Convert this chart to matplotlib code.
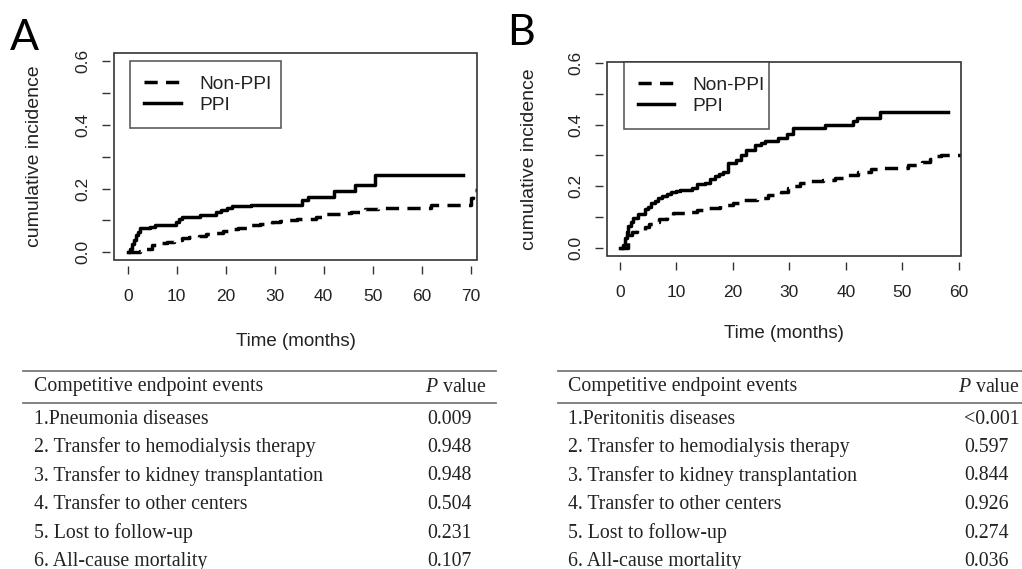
import matplotlib
matplotlib.use('Agg')
from matplotlib import pyplot as pl
from matplotlib.ticker import MultipleLocator
from matplotlib.patches import Rectangle
from matplotlib.lines import Line2D
import numpy as np

W, H = 1022, 569

# Panel A: pneumonia, cumulative incidence (step points)
a_ppi_t = [0, 0.4, 0.8, 1.2, 1.6, 2.0, 2.5, 4.6, 5.5, 9.9, 10.5, 11.0, 14.8, 18.0,
           19.0, 20.3, 21.3, 25.2, 35.5, 36.8, 42.2, 46.4, 50.5, 68.5]
a_ppi_v = [0, 0.012, 0.025, 0.040, 0.055, 0.065, 0.075, 0.080, 0.086, 0.095, 0.105,
           0.112, 0.117, 0.125, 0.133, 0.139, 0.144, 0.150, 0.164, 0.173, 0.191,
           0.212, 0.242, 0.242]
a_non_t = [0, 2.5, 3.5, 5.0, 6.5, 8.0, 9.5, 11.0, 12.5, 14.5, 16.0, 17.5, 19.5, 21.0,
           22.5, 24.5, 27.0, 29.5, 31.0, 32.5, 34.5, 38.5, 40.0, 43.5, 45.5, 47.5,
           48.5, 51.0, 62.0, 70.0, 70.5, 72.0]
a_non_v = [0, 0.004, 0.012, 0.022, 0.028, 0.032, 0.038, 0.044, 0.048, 0.052, 0.056,
           0.060, 0.068, 0.073, 0.077, 0.085, 0.088, 0.094, 0.098, 0.101, 0.104,
           0.110, 0.119, 0.122, 0.127, 0.133, 0.137, 0.140, 0.148, 0.170, 0.195, 0.195]

# Panel B: peritonitis
b_ppi_t = [0, 0.5, 0.9, 1.2, 1.5, 2.0, 2.4, 3.3, 4.4, 5.0, 5.6, 6.2, 6.8, 7.5, 8.3,
           9.1, 10.0, 10.6, 12.7, 13.6, 15.0, 16.0, 16.8, 17.5, 18.3, 19.2, 20.6,
           21.5, 22.4, 23.9, 25.0, 25.7, 28.0, 29.5, 30.7, 36.3, 41.3, 42.0, 46.0, 58.0]
b_ppi_v = [0, 0.010, 0.030, 0.050, 0.070, 0.085, 0.095, 0.110, 0.125, 0.132, 0.145,
           0.152, 0.163, 0.168, 0.176, 0.182, 0.185, 0.188, 0.195, 0.207, 0.212,
           0.222, 0.232, 0.240, 0.247, 0.275, 0.285, 0.303, 0.318, 0.335, 0.342,
           0.348, 0.356, 0.370, 0.390, 0.400, 0.413, 0.423, 0.442, 0.442]
b_non_t = [0, 1.5, 2.1, 3.0, 4.4, 5.2, 5.9, 7.0, 8.3, 9.4, 11.5, 13.6, 15.3, 17.7,
           20.1, 21.9, 24.2, 26.3, 27.5, 28.6, 29.8, 30.8, 31.9, 33.9, 36.0, 38.0,
           40.1, 42.2, 44.5, 46.6, 51.0, 52.5, 53.4, 54.9, 56.0, 56.9, 61.0]
b_non_v = [0, 0.040, 0.052, 0.058, 0.066, 0.076, 0.084, 0.092, 0.100, 0.112, 0.117,
           0.122, 0.130, 0.139, 0.147, 0.155, 0.162, 0.171, 0.176, 0.182, 0.193,
           0.200, 0.209, 0.217, 0.220, 0.227, 0.238, 0.245, 0.255, 0.260, 0.268,
           0.274, 0.279, 0.290, 0.297, 0.303, 0.303]

groups = ['Non-PPI', 'PPI']

# Tables of competing endpoint events
a_events = ['1.Pneumonia diseases',
            '2. Transfer to hemodialysis therapy',
            '3. Transfer to kidney transplantation',
            '4. Transfer to other centers',
            '5. Lost to follow-up',
            '6. All-cause mortality']
a_pvals = ['0.009', '0.948', '0.948', '0.504', '0.231', '0.107']
b_events = ['1.Peritonitis diseases'] + a_events[1:]
b_pvals = ['<0.001', '0.597', '0.844', '0.926', '0.274', '0.036']

INK = '#222222'
BOX = '#333333'
SANS = 'Liberation Sans'
SERIF = 'Liberation Serif'

pl.rcParams['mathtext.fontset'] = 'custom'
pl.rcParams['mathtext.it'] = SERIF + ':italic'
pl.rcParams['mathtext.rm'] = SERIF

fig = pl.figure(figsize=(W / 100, H / 100), dpi=100)


def rect_px(left, top, right, bottom):
    return [left / W, 1 - bottom / H, (right - left) / W, (bottom - top) / H]


def make_panel(rect, ppi_t, ppi_v, non_t, non_v, xmax, xlim, ylim, leg_box):
    ax = fig.add_axes(rect)
    ax.step(non_t, non_v, where='post', color='k', lw=2.5,
            linestyle=(0, (3.8, 2.4)), label=groups[0])
    ax.step(ppi_t, ppi_v, where='post', color='k', lw=2.5, label=groups[1])
    ax.set_xlim(xlim)
    ax.set_ylim(ylim)

    ax.set_xticks(np.arange(0, xmax + 1, 10))
    ax.yaxis.set_major_locator(MultipleLocator(0.2))
    ax.yaxis.set_minor_locator(MultipleLocator(0.1))
    ax.yaxis.set_major_formatter(lambda v, p: '{:.1f}'.format(v))

    for s in ax.spines.values():
        s.set_color('none')
    ax.spines['bottom'].set_position(('outward', 4))
    ax.spines['left'].set_position(('outward', 3))
    ax.add_patch(Rectangle((0, 0), 1, 1, transform=ax.transAxes, fill=False,
                           lw=1.2, ec=BOX, clip_on=False, zorder=5))

    ax.tick_params(which='both', direction='out', length=6, width=1,
                   color=BOX, labelcolor=INK, labelsize=12.5)
    ax.tick_params(axis='x', pad=11)
    ax.tick_params(axis='y', pad=8, labelrotation=90)
    for lab in ax.get_xticklabels() + ax.get_yticklabels():
        lab.set_fontfamily(SANS)
    for lab in ax.get_yticklabels():
        lab.set_verticalalignment('center')

    ax.set_xlabel('Time (months)', fontsize=13.5, color=INK, family=SANS)
    ax.set_ylabel('cumulative incidence', fontsize=14, color=INK, family=SANS)
    ax.xaxis.set_label_coords(0.5, -0.355)
    ax.yaxis.set_label_coords(-0.195, 0.5)

    leg = ax.legend(loc='upper left', bbox_to_anchor=leg_box, mode='expand',
                    prop={'family': SANS, 'size': 13.8}, frameon=True,
                    fancybox=False, edgecolor=BOX, handlelength=1.9,
                    handletextpad=0.95, borderpad=0.75, labelspacing=0.2,
                    borderaxespad=0)
    leg.get_frame().set_linewidth(1.2)
    for txt in leg.get_texts():
        txt.set_color(INK)
    return ax


ax_a = make_panel(rect_px(114, 53, 477, 260), a_ppi_t, a_ppi_v, a_non_t, a_non_v,
                  70, (-2.8, 71.3), (-0.024, 0.625), (0.044, 0.62, 0.416, 0.341))
ax_b = make_panel(rect_px(607, 62, 961, 256), b_ppi_t, b_ppi_v, b_non_t, b_non_v,
                  60, (-2.25, 60.35), (-0.027, 0.604), (0.047, 0.645, 0.41, 0.355))

fig.text(10 / W, 1 - 50 / H, 'A', fontsize=31, family='Lato', color='k',
         ha='left', va='baseline')
fig.text(507 / W, 1 - 45 / H, 'B', fontsize=31, family='Lato', color='k',
         ha='left', va='baseline')


def make_table(x0, x1, xtext, xval, xhead, events, pvals):
    for y in (370.5, 402.5):
        fig.add_artist(Line2D([x0 / W, x1 / W], [1 - y / H, 1 - y / H],
                              color='#7a7a7a', lw=1.3))
    fig.text(xtext / W, 1 - 387 / H, 'Competitive endpoint events', fontsize=14.3,
             family=SERIF, color=INK, ha='left', va='center')
    fig.text(xhead / W, 1 - 387 / H, '$P$ value', fontsize=14.3, family=SERIF,
             color=INK, ha='left', va='center')
    for i, (ev, pv) in enumerate(zip(events, pvals)):
        y = 1 - (419 + i * 28.5) / H
        fig.text(xtext / W, y, ev, fontsize=14.3, family=SERIF, color=INK,
                 ha='left', va='center')
        fig.text(xval / W, y, pv, fontsize=14.3, family=SERIF, color=INK,
                 ha='left', va='center')


make_table(23, 496, 34, 427, 425, a_events, a_pvals)
make_table(558, 1022, 568, 964, 958, b_events, b_pvals)

fig.savefig('out.png', dpi=100)
